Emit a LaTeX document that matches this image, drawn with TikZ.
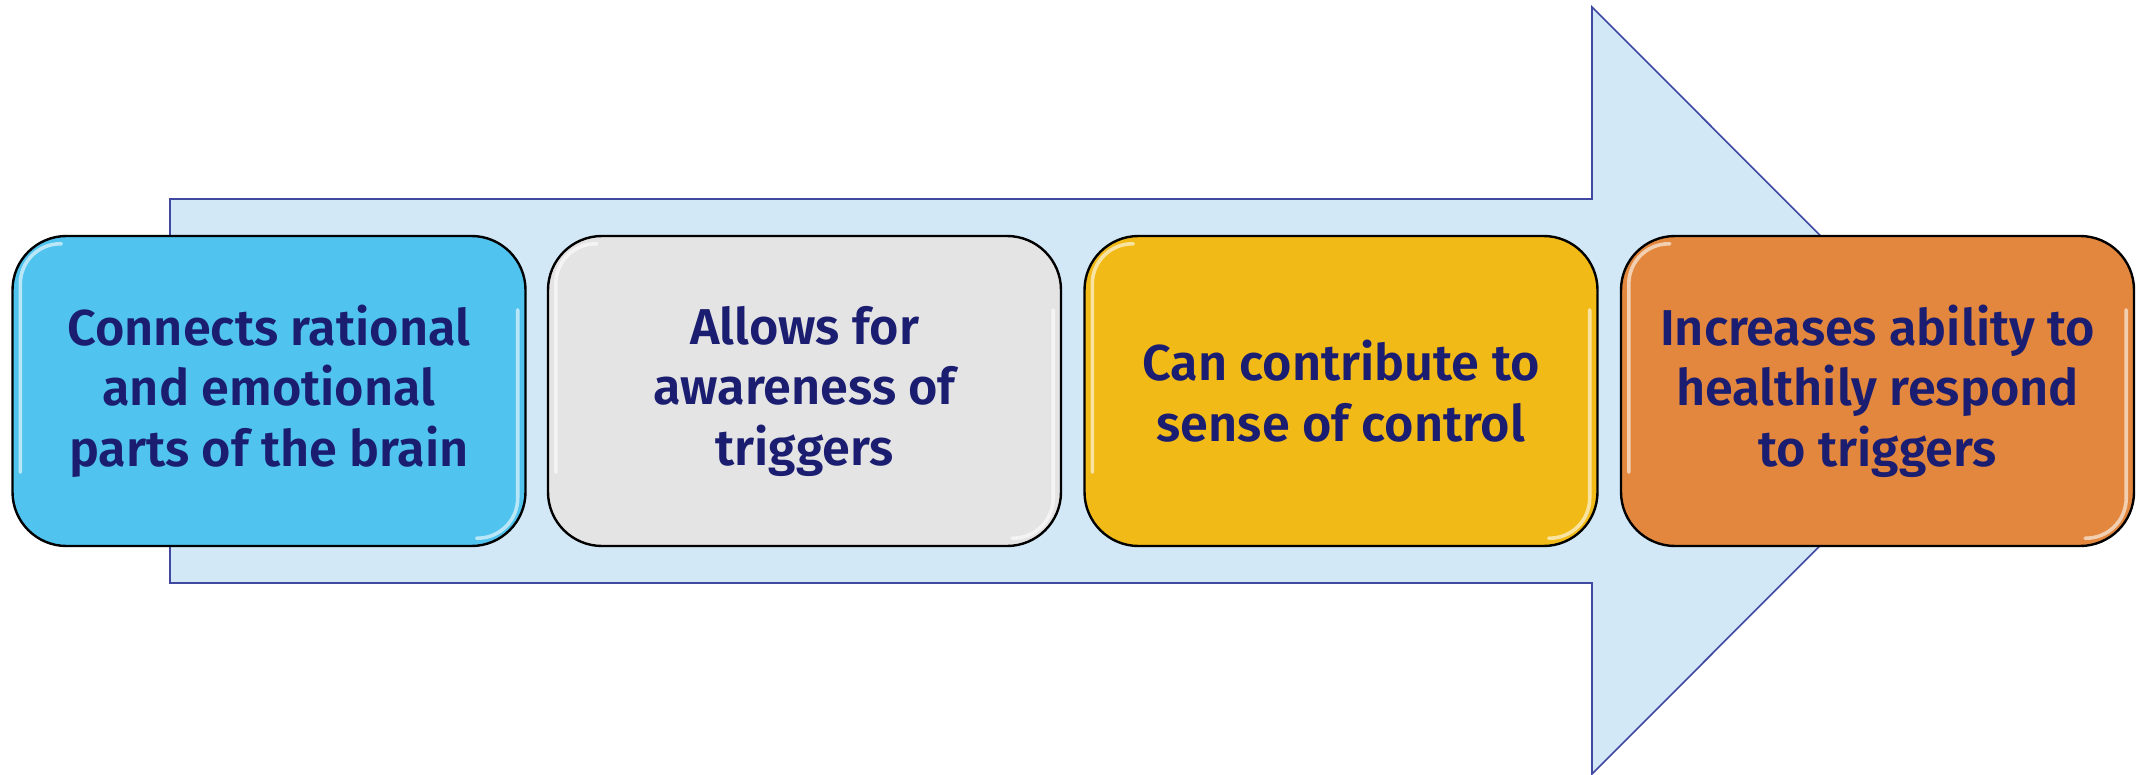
\documentclass[tikz,border=0pt]{standalone}
\usepackage{fontspec}
\newfontfamily\labelfont{Fira Sans SemiBold}
\usetikzlibrary{calc}

\definecolor{arrowfill}{HTML}{D2E8F7}
\definecolor{arrowedge}{HTML}{4048A0}
\definecolor{textnavy}{HTML}{1B1E70}
\definecolor{boxblue}{HTML}{50C3EF}
\definecolor{boxgrey}{HTML}{E4E4E4}
\definecolor{boxgold}{HTML}{F2BA16}
\definecolor{boxorange}{HTML}{E2873D}

\tikzset{
  bigarrow/.style={fill=arrowfill, draw=arrowedge, line width=0.8pt, line join=miter},
  stagebox/.style={draw=black, line width=1.2pt, rounded corners=27pt,
    minimum width=256.5pt, minimum height=155pt, align=center,
    text=textnavy, font=\labelfont\fontsize{25.2}{30.25}\selectfont},
  shine/.style={draw=white, line width=1.8pt, line cap=round, opacity=0.6, rounded corners=20pt}
}

% glossy rim highlights along the left and right sides of a box
\newcommand\boxshine[1]{%
  \draw[shine] ($(#1.south west)+(9,-75)$) -- ($(#1.north west)+(9,9)$) -- ($(#1.north west)+(50,9)$);
  \draw[shine] ($(#1.north east)+(-9,75)$) -- ($(#1.south east)+(-9,-9)$) -- ($(#1.south east)+(-50,-9)$);
}

\begin{document}
\begin{tikzpicture}[x=0.5pt, y=-0.5pt]
  \useasboundingbox (0,0) rectangle (2136,775);
  \fill[white] (0,0) rectangle (2136,775);

  % block arrow behind the stages
  \coordinate (tailtop) at (170,199);
  \coordinate (tailbot) at (170,583);
  \coordinate (tip) at (1975,390.5);
  \draw[bigarrow] (tailtop) -- (1592,199) -- (1592,7) -- (tip)
    -- (1592,774) -- (1592,583) -- (tailbot) -- cycle;

  % stages
  \node[stagebox, fill=boxblue] (s1) at (269,391)
    {Connects rational\\and emotional\\parts of the brain};
  \node[stagebox, fill=boxgrey] (s2) at (804.5,391)
    {Allows for\\awareness of\\triggers};
  \node[stagebox, fill=boxgold] (s3) at (1341,391)
    {Can contribute to\\sense of control};
  \node[stagebox, fill=boxorange] (s4) at (1877.5,391)
    {Increases ability to\\healthily respond\\to triggers};

  \boxshine{s1}
  \boxshine{s2}
  \boxshine{s3}
  \boxshine{s4}
\end{tikzpicture}
\end{document}
